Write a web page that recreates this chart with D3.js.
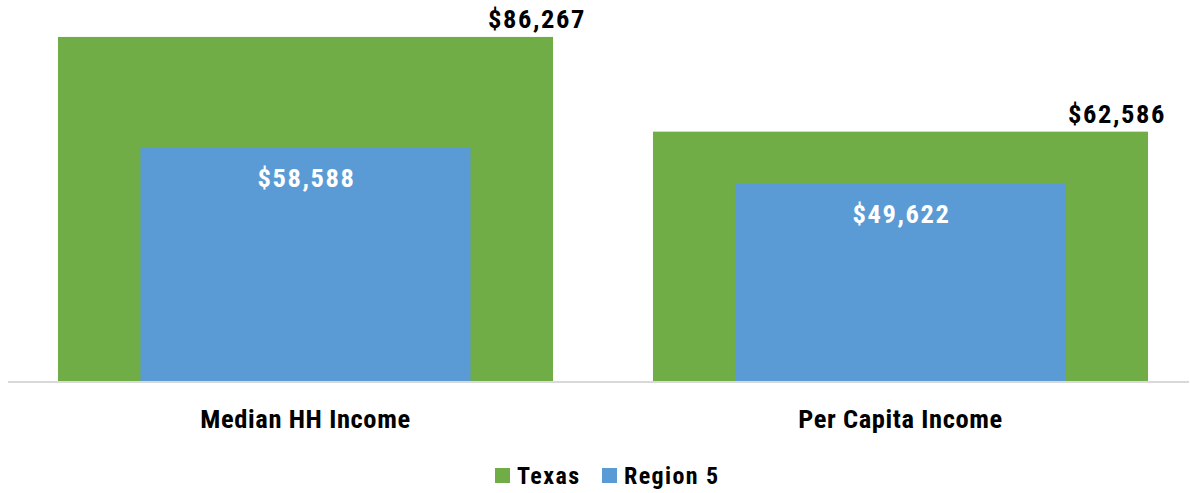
<!DOCTYPE html>
<html><head><meta charset="utf-8">
<script src="https://cdn.jsdelivr.net/npm/d3@7"></script>
<style>body{margin:0;background:#fff}svg{display:block}text{font-family:"Roboto Condensed",Roboto,"Liberation Sans",sans-serif;font-weight:700;fill:#000}</style>
</head><body><svg id="c" width="1190" height="493"></svg>
<script>
const categories = ["Median HH Income", "Per Capita Income"];
const texas = [86267, 62586];
const region5 = [58588, 49622];
const seriesNames = ["Texas", "Region 5"];
const colors = ["#70AD47", "#5B9BD5"];

const svg = d3.select("#c");
const W = 1190, H = 493;
const m = {l: 8, t: 22, b: 111};
const x = d3.scaleBand().domain(categories).range([m.l, m.l + 1190]).paddingInner(0.168).paddingOuter(0.084);
const y = d3.scaleLinear().domain([0, 90000]).range([H - m.b, m.t]);
const fmt = v => "$" + d3.format(",")(v);
const FF = '"Roboto Condensed",Roboto,"Liberation Sans",sans-serif';

const gw = x.bandwidth();
const bw = gw * (2 / 3);

svg.selectAll(".tx").data(categories).join("rect")
  .attr("x", d => x(d)).attr("width", gw)
  .attr("y", (d, i) => y(texas[i])).attr("height", (d, i) => y(0) - y(texas[i]))
  .attr("fill", colors[0]);
svg.selectAll(".r5").data(categories).join("rect")
  .attr("x", d => x(d) + (gw - bw) / 2).attr("width", bw)
  .attr("y", (d, i) => y(region5[i])).attr("height", (d, i) => y(0) - y(region5[i]))
  .attr("fill", colors[1]);

const xa = svg.append("g").attr("transform", `translate(0,${y(0)})`)
  .call(d3.axisBottom(x).tickSize(0).tickPadding(27));
xa.select(".domain").attr("stroke", "#d9d9d9").attr("stroke-width", 2).attr("d", `M${m.l},0H${W - 1}`);
xa.selectAll("text").attr("font-size", 26.5).style("font-family", FF).attr("font-weight", 700)
  .attr("fill", "#000").style("letter-spacing", "0.6px");

const dxTop = [33, 18];
svg.selectAll(".tl").data(categories).join("text")
  .attr("x", (d, i) => x(d) + gw + dxTop[i]).attr("y", (d, i) => y(texas[i]) - 9)
  .attr("text-anchor", "end").attr("font-size", 26.5).style("letter-spacing", "1.6px")
  .text((d, i) => fmt(texas[i]));
svg.selectAll(".rl").data(categories).join("text")
  .attr("x", d => x(d) + gw / 2 + 1).attr("y", (d, i) => y(region5[i]) + 39)
  .attr("text-anchor", "middle").attr("font-size", 26.5).style("fill", "#fff").style("letter-spacing", "1.6px")
  .text((d, i) => fmt(region5[i]));

const lg = svg.append("g").attr("transform", "translate(495,468)");
const items = [{n: seriesNames[0], c: colors[0], x: 0}, {n: seriesNames[1], c: colors[1], x: 107}];
items.forEach(it => {
  lg.append("rect").attr("x", it.x).attr("y", 0).attr("width", 15).attr("height", 15).attr("fill", it.c);
  lg.append("text").attr("x", it.x + 22).attr("y", 15.5).attr("font-size", 24).style("letter-spacing", "1.4px").text(it.n);
});
</script></body></html>
